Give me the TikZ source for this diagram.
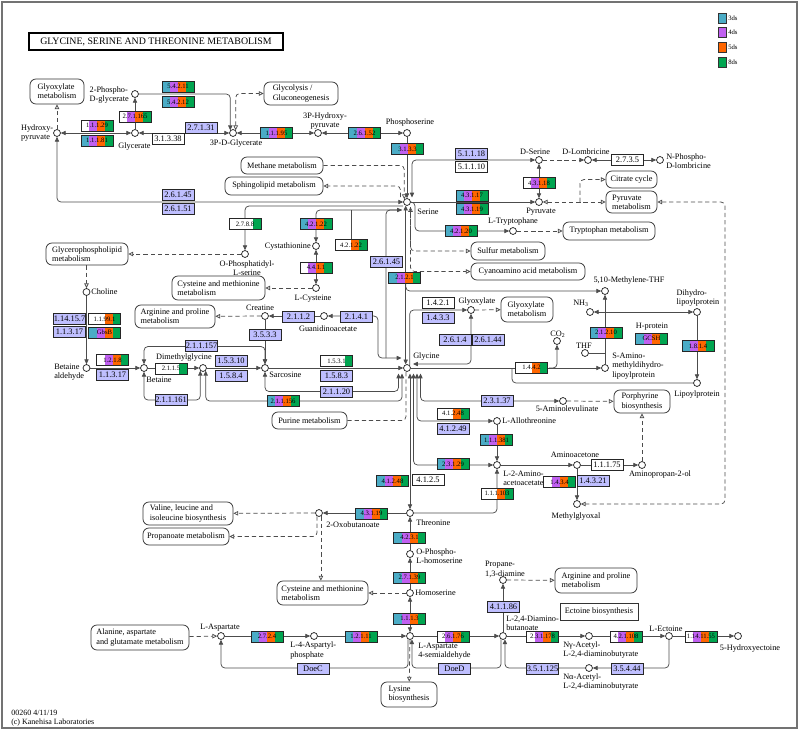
\documentclass[tikz,border=0pt]{standalone}
\usepackage{fontspec}
\setmainfont{Liberation Serif}
\usetikzlibrary{arrows.meta,calc}
\definecolor{kc}{HTML}{4BACC6}
\definecolor{kp}{HTML}{C060F0}
\definecolor{ko}{HTML}{FF6600}
\definecolor{kg}{HTML}{00A550}
\definecolor{kl}{HTML}{BFBFFF}
\newcommand\lf{\fontsize{6.2}{6.9}\selectfont}
\tikzset{
  >={Triangle[length=3.6pt,width=3.2pt]},
  oa/.tip={Triangle[length=3.6pt,width=3.4pt,fill=white]},
  cpd/.style={circle,draw=black!85,fill=white,line width=0.55pt,minimum size=5.2pt,inner sep=0pt},
  lbl/.style={font=\lf,inner sep=0pt,align=center},
  mapb/.style={draw=black!80,rounded corners=4.5pt,line width=0.55pt,fill=white,align=left,font=\lf,inner sep=0pt},
  enz/.style={draw=black!85,line width=0.5pt,minimum width=24pt,minimum height=8.25pt,inner sep=0pt,font=\fontsize{5}{5}\selectfont},
  ln/.style={draw=black!70,line width=0.55pt,rounded corners=3pt},
  dsh/.style={ln,dash pattern=on 3.2pt off 2.2pt},
}
\newcommand\ez[8]{%
  \fill[#4] ({#2-16},{#3-5.5}) rectangle ({#2-8},{#3+5.5});
  \fill[#5] ({#2-8},{#3-5.5}) rectangle ({#2},{#3+5.5});
  \fill[#6] ({#2},{#3-5.5}) rectangle ({#2+8},{#3+5.5});
  \fill[#7] ({#2+8},{#3-5.5}) rectangle ({#2+16},{#3+5.5});
  \node[enz] (#1) at (#2,#3) {#8};}
\newcommand\eb[5]{\node[enz,fill=#4,font=\fontsize{6.3}{6.3}\selectfont] (#1) at (#2,#3) {#5};}
\newcommand\mapnode[6]{\node[mapb,minimum width={(#4-#2)*0.75pt},minimum height={(#5-#3)*0.75pt}] (#1) at ({(#2+#4)/2},{(#3+#5)/2}) {#6};}
\begin{document}
\begin{tikzpicture}[x=0.75pt,y=-0.75pt]
\useasboundingbox (0,0) rectangle (800,732);
\draw[black!55,line width=0.8pt] (2,2) rectangle (797,728);
\node[draw=black,line width=0.9pt,minimum width={254*0.75pt},minimum height={17*0.75pt},inner sep=0pt,font=\fontsize{7.4}{7.4}\selectfont] (title) at (156,41.5) {GLYCINE, SERINE AND THREONINE METABOLISM};
% legend
\foreach \c/\t/\yy/\n in {kc/3ds/18/lg1,kp/4ds/32.5/lg2,ko/5ds/47/lg3,kg/8ds/62/lg4}{
  \node[draw=black!80,fill=\c,minimum width=6pt,minimum height=7.5pt,inner sep=0pt] (\n) at (722,\yy) {};
  \node[font=\fontsize{5}{5}\selectfont,anchor=west,inner sep=0pt] (\n t) at (728,\yy) {\t};}
% map boxes
\mapnode{mglxa}{30}{79}{84}{104}{Glyoxylate\\metabolism}
\mapnode{mglyc}{264}{82}{338}{105}{Glycolysis /\\Gluconeogenesis}
\mapnode{mmeth}{241}{157}{323}{174}{Methane metabolism}
\mapnode{msph}{225}{177}{323}{195}{Sphingolipid metabolism}
\mapnode{mcit}{606}{171}{657}{188}{Citrate cycle}
\mapnode{mpyr}{606}{191}{657}{213}{Pyruvate\\metabolism}
\mapnode{mtrp}{563}{222}{655}{240}{Tryptophan metabolism}
\mapnode{msulf}{471}{242}{545}{260}{Sulfur metabolism}
\mapnode{mcyan}{471}{263}{585}{280}{Cyanoamino acid metabolism}
\mapnode{mgpl}{46}{243}{128}{265}{Glycerophospholipid\\metabolism}
\mapnode{mcysa}{172}{276}{265}{300}{Cysteine and methionine\\metabolism}
\mapnode{marga}{135}{305}{215}{328}{Arginine and proline\\metabolism}
\mapnode{mglxb}{501}{297}{553}{322}{Glyoxylate\\metabolism}
\mapnode{mpur}{272}{412}{347}{429}{Purine metabolism}
\mapnode{mpor}{614}{390}{670}{413}{Porphyrine\\biosynthesis}
\mapnode{mval}{143}{502}{233}{525}{Valine, leucine and\\isoleucine biosynthesis}
\mapnode{mprop}{143}{528}{229}{545}{Propanoate metabolism}
\mapnode{mcysb}{277}{581}{368}{605}{Cysteine and methionine\\metabolism}
\mapnode{margb}{555}{568}{637}{593}{Arginine and proline\\metabolism}
\mapnode{mala}{91}{625}{189}{650}{Alanine, aspartate\\and glutamate metabolism}
\mapnode{mlys}{381}{682}{437}{707}{Lysine\\biosynthesis}
\node[draw=black!80,line width=0.55pt,fill=white,font=\lf,inner sep=0pt,minimum width={78*0.75pt},minimum height={17*0.75pt}] (mect) at (599,611.5) {Ectoine biosynthesis};
% compounds
\node[cpd] (c2pg) at (135,94) {};
\node[cpd] (chp) at (57,133) {};
\node[cpd] (cglyc) at (135,133) {};
\node[cpd] (c3pg) at (233,133) {};
\node[cpd] (c3php) at (318,133) {};
\node[cpd] (cps) at (407,133) {};
\node[cpd] (cser) at (407,202) {};
\node[cpd] (cdser) at (539,160) {};
\node[cpd] (cdlom) at (588,160) {};
\node[cpd] (cnpl) at (660,160) {};
\node[cpd] (cpyr) at (539,202) {};
\node[cpd] (ctrp) at (513,231) {};
\node[cpd] (ccysth) at (316,246) {};
\node[cpd] (ccys) at (316,288) {};
\node[cpd] (cops) at (245,254) {};
\node[cpd] (ccho) at (86.5,292) {};
\node[cpd] (cbetald) at (86.5,368) {};
\node[cpd] (cbet) at (144,368) {};
\node[cpd] (cdmg) at (203,368) {};
\node[cpd] (csar) at (265,368) {};
\node[cpd] (ccrea) at (265,316) {};
\node[cpd] (cgaa) at (324,316) {};
\node[cpd] (cglyn) at (407,368) {};
\node[cpd] (cglx) at (471,310) {};
\node[cpd] (cmthf) at (605,291) {};
\node[cpd] (cnh) at (590,312) {};
\node[cpd] (cthf) at (585,353) {};
\node[cpd] (cco) at (557,341) {};
\node[cpd] (cdhl) at (697,312) {};
\node[cpd] (clip) at (697,383) {};
\node[cpd] (csam) at (605,368) {};
\node[cpd] (cala) at (563,401) {};
\node[cpd] (callo) at (497,421) {};
\node[cpd] (cltwo) at (497,465) {};
\node[cpd] (caac) at (577,465) {};
\node[cpd] (capr) at (642,465) {};
\node[cpd] (cmgx) at (577,504) {};
\node[cpd] (cthr) at (410,513) {};
\node[cpd] (coxo) at (319,513) {};
\node[cpd] (copl) at (410,554) {};
\node[cpd] (chse) at (410,593) {};
\node[cpd] (casa) at (410,636) {};
\node[cpd] (casp) at (221,636) {};
\node[cpd] (cfap) at (314,636) {};
\node[cpd] (cdab) at (503,636) {};
\node[cpd] (cpda) at (503,580) {};
\node[cpd] (cnga) at (589,636) {};
\node[cpd] (cna) at (589,668) {};
\node[cpd] (cect) at (669,636) {};
\node[cpd] (choe) at (738,636) {};
% free ends
\coordinate (sph) at (400.5,197);
\coordinate (sD) at (412,197.5);
\coordinate (pj) at (580,202);
\coordinate (sS) at (410.5,207);
\coordinate (sM) at (405.8,282);
\coordinate (sO) at (403,206);
\coordinate (sC) at (402,210);
\coordinate (cj) at (351,210);
\coordinate (gk) at (386,358);
\coordinate (gA) at (398.5,373.5);
\coordinate (gB) at (402,373.5);
\coordinate (gN) at (401.5,358);
\coordinate (gT) at (410,373.5);
\coordinate (gC) at (413.5,373.5);
\coordinate (gF) at (417,373.5);
\coordinate (gL) at (420.5,373.5);
\coordinate (gG) at (413,364);
\coordinate (coj) at (549,368);
\coordinate (lj) at (512,368);
\coordinate (nj) at (605,312);
\coordinate (tj) at (605,353);
% connectors
\draw[ln,<->] (chp) -- (cglyc);
\draw[ln,->] (cglyc) -- (c2pg);
\draw[ln,->] (c2pg) -| (c3pg.north west);
\draw[dsh,oa-oa] (c3pg.north east) |- (mglyc);
\draw[ln,<->] (cglyc) -- (c3pg);
\draw[ln,<->] (c3pg) -- (c3php);
\draw[ln,<->] (c3php) -- (cps);
\draw[ln,->] (cps) -- (cser);
\draw[dsh,-oa] (chp) -- (chp |- mglxa.south);
\draw[ln,<->] (chp) |- (cser);
\draw[dsh,-oa] (mmeth) -| (cser.north west);
\draw[dsh,-oa] (sph) |- (msph);
\draw[ln,<->] (sD) |- (cdser);
\draw[ln,<->] (cdser) -- (cpyr);
\draw[dsh,->] (cdser) -- (cdlom);
\draw[ln,<->] (cdlom) -- (cnpl);
\draw[ln,->] (cser) -- (cpyr);
\draw[dsh,oa-oa] (cpyr) -- (mpyr);
\draw[dsh,-oa] (pj) |- (mcit);
\draw[dsh,oa-oa] (mpyr) -| (725,300) |- (cmgx);
\draw[ln,->] (cser.east) -- (415,202) |- (ctrp);
\draw[dsh,-oa] (ctrp) -- (mtrp);
\draw[dsh,oa-oa] (sS) |- (msulf);
\draw[dsh,-oa] (sS) |- (mcyan);
\draw[ln,<->] (cser.-110) -- (cglyn.110);
\draw[ln,->] (sM) |- (cmthf);
\draw[ln,->] (sO) -| (cops);
\draw[dsh,-oa] (cops) -- (mgpl);
\draw[ln,->] (sC) -| (ccysth);
\draw[ln,->] (gk) |- (sC);
\draw[ln] (cj) -- ++(0,30);
\draw[ln,<->] (ccysth) -- (ccys);
\draw[dsh,-oa] (ccys) -- (mcysa);
\draw[dsh,-oa] (ccho |- mgpl.south) -- (ccho);
\draw[ln,->] (ccho) -- (cbetald);
\draw[ln,->] (cbetald) -- (cbet);
\draw[ln,->] (cbet) -- (cdmg);
\draw[ln,<->] (cbet) |- (230,346.5) -| (csar);
\draw[ln,<->] (cbet) |- (185,400) -| (cdmg.south west);
\draw[ln,<->] (cdmg.south east) |- (300,401) -| (gB);
\draw[ln,->] (cdmg) -- (csar);
\draw[dsh,-oa] (ccrea) -- (marga);
\draw[ln,->] (cgaa) -- (ccrea);
\draw[ln,->] (ccrea) -- (csar);
\draw[ln,<->] (cgaa) -| (378,340) |- (gN);
\draw[ln,->] (csar) -- (cglyn);
\draw[ln,<->] (csar) |- (330,391.5) -| (gA);
\draw[dsh] (mpur) -| (cglyn.-105);
\draw[ln,<->] (gT) -- (cthr);
\draw[ln,<->] (gC) |- (cltwo);
\draw[ln,<->] (gF) |- (callo);
\draw[ln,<->] (gL) |- (cala);
\draw[ln,->] (callo) -- (cltwo);
\draw[ln,->] (cltwo) -- (caac);
\draw[ln,->] (caac) -- (capr);
\draw[dsh,-oa] (capr) -- (mpor);
\draw[dsh,-oa] (cala) -- (mpor);
\draw[ln,->] (caac) -- (cmgx);
\draw[ln,<-] (cltwo) |- (cthr);
\draw[ln,->] (cthr) -- (coxo);
\draw[dsh,-oa] (coxo) -- (mval);
\draw[dsh,-oa] (coxo.-120) |- (mprop);
\draw[dsh,-oa] (coxo.-60) -- (coxo.-60 |- mcysb.north);
\draw[ln,->] (copl) -- (cthr);
\draw[ln,->] (chse) -- (copl);
\draw[ln,<->] (chse) -- (casa);
\draw[dsh,-oa] (chse) -- (mcysb);
\draw[ln,->] (casp) -- (cfap);
\draw[ln,->] (cfap) -- (casa);
\draw[dsh,-oa] (mala) -- (casp);
\draw[ln,->] (casa.-120) |- (300,668) -| (casp);
\draw[dsh,-oa] (casa) -- (mlys);
\draw[ln,->] (casa) -- (cdab);
\draw[ln,->] (cdab.-120) |- (450,668) -| (casa.-60);
\draw[ln,->] (cdab) -- (cpda);
\draw[dsh,-oa] (cpda) -- (margb);
\draw[ln,->] (cdab) -- (cnga);
\draw[ln,->] (cnga) -- (cect);
\draw[ln,->] (cect) |- (cna);
\draw[ln,->] (cna) -| (cdab.-60);
\draw[ln,->] (cect) -- (choe);
\draw[ln,->] (cglyn.45) |- (cglx);
\draw[dsh,-oa] (cglx) -- (mglxb);
\draw[ln,<->] (cglx) |- (gG);
\draw[ln,->] (cglyn) -- (csam);
\draw[ln,->] (coj) -| (cco);
\draw[ln] (clip) -| (lj);
\draw[ln,->] (cdhl) -- (clip);
\draw[ln,->] (csam) -- (cmthf);
\draw[ln,->] (nj) -- (cnh);
\draw[ln,->] (nj) -- (cdhl);
\draw[ln] (cthf) -- (tj);
% enzymes
\ez{e1}{178}{86.5}{kc}{kp}{ko}{kg}{5.4.2.11}
\ez{e2}{178}{102}{kc}{kp}{ko}{kg}{5.4.2.12}
\ez{e3}{135}{116.5}{white}{kp}{ko}{kg}{2.7.1.165}
\ez{e4}{97}{125.5}{white}{kp}{ko}{kg}{1.1.1.29}
\ez{e5}{97}{140.5}{kc}{kp}{ko}{kg}{1.1.1.81}
\eb{e6}{201}{127.5}{kl}{2.7.1.31}
\eb{e7}{168}{139}{white}{3.1.3.38}
\ez{e8}{276.5}{133}{kc}{kp}{ko}{kg}{1.1.1.95}
\ez{e9}{364.5}{133}{kc}{kp}{ko}{kg}{2.6.1.52}
\ez{e10}{407.5}{149}{kc}{kp}{ko}{kg}{3.1.3.3}
\eb{e11}{178}{195}{kl}{2.6.1.45}
\eb{e12}{178}{209}{kl}{2.6.1.51}
\eb{e13}{471.5}{153.5}{kl}{5.1.1.18}
\eb{e14}{471.5}{167}{white}{5.1.1.10}
\ez{e15}{539}{183}{white}{kp}{ko}{kg}{4.3.1.18}
\ez{e16}{472}{195.5}{kc}{kp}{ko}{kg}{4.3.1.17}
\ez{e17}{472}{209}{kc}{kp}{ko}{kg}{4.3.1.19}
\eb{e18}{627.5}{160}{white}{2.7.3.5}
\ez{e19}{461}{231}{kc}{kp}{ko}{kg}{4.2.1.20}
\ez{e20}{245}{224}{white}{white}{white}{kg}{2.7.8.8}
\ez{e21}{316}{224}{kc}{kp}{ko}{kg}{4.2.1.22}
\ez{e22}{351}{245}{white}{white}{ko}{kg}{4.2.1.22}
\ez{e23}{316}{267.5}{white}{kp}{ko}{kg}{4.4.1.1}
\eb{e24}{386.5}{262}{kl}{2.6.1.45}
\ez{e25}{404.5}{277.5}{kc}{kp}{ko}{kg}{2.1.2.1}
\eb{e26}{69.5}{319}{kl}{1.14.15.7}
\eb{e27}{69.5}{332}{kl}{1.1.3.17}
\ez{e28}{104.5}{319}{white}{white}{ko}{kg}{1.1.99.1}
\ez{e29}{104.5}{332.5}{kc}{kp}{ko}{kg}{GbsB}
\ez{e30}{112.5}{360}{white}{kp}{ko}{kg}{1.2.1.8}
\eb{e31}{112.5}{375}{kl}{1.1.3.17}
\ez{e32}{171}{368.5}{white}{white}{white}{kg}{2.1.1.5}
\eb{e33}{201.5}{346}{kl}{2.1.1.157}
\eb{e34}{171}{400}{kl}{2.1.1.161}
\eb{e35}{231}{360.5}{kl}{1.5.3.10}
\eb{e36}{231}{376}{kl}{1.5.8.4}
\eb{e37}{298.5}{317}{kl}{2.1.1.2}
\eb{e38}{356.5}{317}{kl}{2.1.4.1}
\eb{e39}{265}{334.5}{kl}{3.5.3.3}
\ez{e40}{336.5}{361}{white}{white}{white}{kg}{1.5.3.1}
\eb{e41}{336.5}{376}{kl}{1.5.8.3}
\eb{e42}{336.5}{391.5}{kl}{2.1.1.20}
\ez{e43}{283}{401}{kc}{kp}{ko}{kg}{2.1.1.156}
\eb{e44}{438}{303}{white}{1.4.2.1}
\eb{e45}{438}{317.5}{kl}{1.4.3.3}
\eb{e46}{455}{340}{kl}{2.6.1.4}
\eb{e47}{488}{340}{kl}{2.6.1.44}
\ez{e48}{606}{332.5}{kc}{kp}{ko}{kg}{2.1.2.10}
\ez{e49}{651.5}{338.5}{kc}{kp}{ko}{kg}{GCSH}
\ez{e50}{698}{346}{kc}{kp}{ko}{kg}{1.8.1.4}
\ez{e51}{531.5}{367.5}{white}{white}{ko}{kg}{1.4.4.2}
\eb{e52}{497}{400.5}{kl}{2.3.1.37}
\ez{e53}{453}{413.5}{white}{white}{ko}{kg}{4.1.2.48}
\eb{e54}{453}{429}{kl}{4.1.2.49}
\ez{e55}{496.5}{440}{kc}{kp}{ko}{kg}{1.1.1.381}
\ez{e56}{453}{464}{kc}{kp}{ko}{kg}{2.3.1.29}
\eb{e57}{607}{465}{white}{1.1.1.75}
\ez{e58}{559.5}{482}{white}{kp}{ko}{kg}{1.4.3.4}
\eb{e59}{593}{481}{kl}{1.4.3.21}
\ez{e60}{392.5}{481}{kc}{kp}{ko}{kg}{4.1.2.48}
\eb{e61}{428}{480}{white}{4.1.2.5}
\ez{e62}{497}{493.5}{white}{white}{ko}{kg}{1.1.1.103}
\ez{e63}{371.5}{513.5}{kc}{kp}{ko}{kg}{4.3.1.19}
\ez{e64}{409.5}{537.5}{kc}{kp}{ko}{kg}{4.2.3.1}
\ez{e65}{409.5}{577.5}{kc}{kp}{ko}{kg}{2.7.1.39}
\ez{e66}{409.5}{618.5}{kc}{kp}{ko}{kg}{1.1.1.3}
\ez{e67}{267}{636.5}{kc}{kp}{ko}{kg}{2.7.2.4}
\ez{e68}{361}{636.5}{kc}{kp}{ko}{kg}{1.2.1.11}
\eb{e69}{313}{668.5}{kl}{DoeC}
\ez{e70}{453}{636.5}{white}{kp}{ko}{kg}{2.6.1.76}
\eb{e71}{454.5}{668.5}{kl}{DoeD}
\eb{e72}{503.5}{607}{kl}{4.1.1.86}
\ez{e73}{542.5}{636.5}{white}{kp}{ko}{kg}{2.3.1.178}
\eb{e74}{542.5}{668.5}{kl}{3.5.1.125}
\ez{e75}{626}{636.5}{white}{kp}{ko}{kg}{4.2.1.108}
\eb{e76}{627}{669}{kl}{3.5.4.44}
\ez{e77}{701}{636.5}{white}{kp}{ko}{kg}{1.14.11.55}
% compound labels
\node[lbl,anchor=east,align=left] (l1) at (53.5,133) {Hydroxy-\\pyruvate};
\node[lbl,anchor=east,align=left] (l2) at (129,95) {2-Phospho-\\D-glycerate};
\node[lbl] (l3) at (134.5,146.5) {Glycerate};
\node[lbl] (l4) at (236,143.5) {3P-D-Glycerate};
\node[lbl] (l5) at (325,121) {3P-Hydroxy-\\pyruvate};
\node[lbl] (l6) at (410,123) {Phosphoserine};
\node[lbl] (l7) at (428,212) {Serine};
\node[lbl] (l8) at (535,152) {D-Serine};
\node[lbl] (l9) at (586,152) {D-Lombricine};
\node[lbl,anchor=west,align=left] (l10) at (666,161) {N-Phospho-\\D-lombricine};
\node[lbl] (l11) at (541,212) {Pyruvate};
\node[lbl] (l12) at (513,222) {L-Tryptophane};
\node[lbl,anchor=east] (l13) at (311,246.5) {Cystathionine};
\node[lbl] (l14) at (247,268) {O-Phosphatidyl-\\L-serine};
\node[lbl] (l15) at (313,299) {L-Cysteine};
\node[lbl,anchor=west] (l16) at (91,292) {Choline};
\node[lbl,anchor=west,align=left] (l17) at (54,372) {Betaine\\aldehyde};
\node[lbl] (l18) at (159,380) {Betaine};
\node[lbl] (l19) at (184,357.5) {Dimethylglycine};
\node[lbl,anchor=west] (l20) at (269,375) {Sarcosine};
\node[lbl] (l21) at (260,308) {Creatine};
\node[lbl] (l22) at (328,329) {Guanidinoacetate};
\node[lbl,anchor=west] (l23) at (413,357) {Glycine};
\node[lbl] (l24) at (477,302) {Glyoxylate};
\node[lbl] (l25) at (629,281) {5,10-Methylene-THF};
\node[lbl] (l26) at (581,303) {NH\textsubscript{3}};
\node[lbl] (l27) at (558,334) {CO\textsubscript{2}};
\node[lbl] (l28) at (584,346) {THF};
\node[lbl,align=left] (l29) at (698,298) {Dihydro-\\lipoylprotein};
\node[lbl] (l30) at (652,327) {H-protein};
\node[lbl,anchor=west,align=left] (l31) at (612,366) {S-Amino-\\methyldihydro-\\lipoylprotein};
\node[lbl] (l32) at (697,395) {Lipoylprotein};
\node[lbl] (l33) at (567,409) {5-Aminolevulinate};
\node[lbl,anchor=west] (l34) at (502,421) {L-Allothreonine};
\node[lbl] (l35) at (575,455) {Aminoacetone};
\node[lbl] (l36) at (660,475) {Aminopropan-2-ol};
\node[lbl,anchor=west,align=left] (l37) at (503,478) {L-2-Amino-\\acetoacetate};
\node[lbl] (l38) at (576,517) {Methylglyoxal};
\node[lbl,anchor=west] (l39) at (416,523) {Threonine};
\node[lbl,anchor=west] (l40) at (326,525) {2-Oxobutanoate};
\node[lbl,anchor=west,align=left] (l41) at (416,556) {O-Phospho-\\L-homoserine};
\node[lbl,anchor=west] (l42) at (415,593) {Homoserine};
\node[lbl,anchor=west,align=left] (l43) at (418,651) {L-Aspartate\\4-semialdehyde};
\node[lbl,align=left] (l44) at (505,569.5) {Propane-\\1,3-diamine};
\node[lbl,anchor=west,align=left] (l45) at (506,623.5) {L-2,4-Diamino-\\butanoate};
\node[lbl,anchor=west,align=left] (l46) at (563,650) {Nγ-Acetyl-\\L-2,4-diaminobutyrate};
\node[lbl,anchor=west,align=left] (l47) at (563,682) {Nα-Acetyl-\\L-2,4-diaminobutyrate};
\node[lbl] (l48) at (666,629) {L-Ectoine};
\node[lbl] (l49) at (750,649) {5-Hydroxyectoine};
\node[lbl] (l50) at (220,628) {L-Aspartate};
\node[lbl,anchor=west,align=left] (l51) at (290,650.5) {L-4-Aspartyl-\\phosphate};
\node[lbl,anchor=north west,align=left,font=\fontsize{6}{6.6}\selectfont] (cpr) at (11,710) {00260 4/11/19\\(c) Kanehisa Laboratories};
\end{tikzpicture}
\end{document}
